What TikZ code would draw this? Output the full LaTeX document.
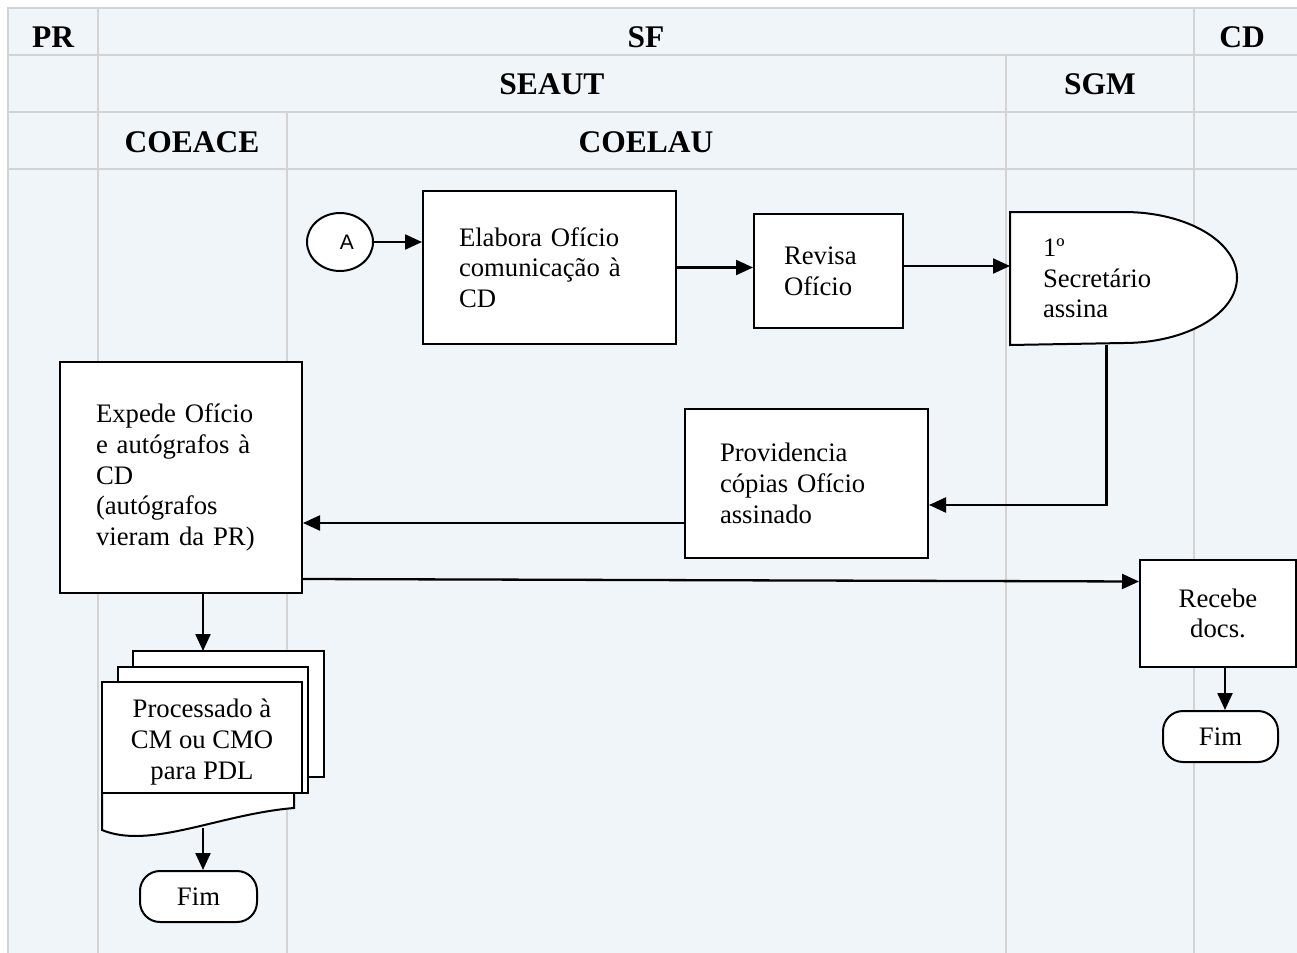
\documentclass[tikz,border=0pt]{standalone}
\usepackage{fontspec}
\setmainfont{Liberation Serif}
\newfontfamily\sansA{Liberation Sans}
\usetikzlibrary{shapes.geometric,arrows.meta,calc}
\pgfdeclarelayer{grid}
\pgfdeclarelayer{shapes}
\pgfsetlayers{grid,shapes,main}
\definecolor{lanebg}{RGB}{240,245,250}
\definecolor{laneline}{RGB}{211,211,211}
\newcommand\txtsize{\fontsize{13.35}{15.35}\selectfont}
\newcommand\hdsize{\fontsize{15.75}{18}\selectfont\bfseries}

\begin{document}
\begin{tikzpicture}[x=0.5pt,y=-0.5pt,
  lane/.style={draw=laneline,line width=1pt},
  head/.style={font=\hdsize,anchor=base,inner sep=0pt},
  box/.style={draw,fill=white,line width=1pt,inner sep=0pt,font=\txtsize,align=left},
  term/.style={box,rounded corners=10pt,align=center},
  page/.style={draw,fill=white,line width=1pt},
  arr/.style={line width=1.15pt,-{Triangle[length=8.5pt,width=7.5pt]}}]
\useasboundingbox (0,0) rectangle (1297,953);

% swimlane table
\begin{pgfonlayer}{grid}
  \fill[lanebg] (8,8) rectangle (1302,958);
  \draw[lane] (1302,8) -- (8,8) -- (8,958);
  \draw[lane] (8,55) -- (1302,55);
  \draw[lane] (8,112) -- (1302,112);
  \draw[lane] (8,169) -- (1302,169);
  \draw[lane] (98,8) -- (98,958);
  \draw[lane] (1194,8) -- (1194,958);
  \draw[lane] (1006,55) -- (1006,958);
  \draw[lane] (287,112) -- (287,958);
\end{pgfonlayer}

% lane headings
\node[head] (hPR) at (53,47) {PR};
\node[head] (hSF) at (646,47) {SF};
\node[head] (hCD) at (1242,47) {CD};
\node[head] (hSEAUT) at (552,94) {SEAUT};
\node[head] (hSGM) at (1100,94) {SGM};
\node[head] (hCOEACE) at (192,152) {COEACE};
\node[head] (hCOELAU) at (646,152) {COELAU};

% process steps
\node[draw,fill=white,ellipse,line width=1pt,minimum width=33pt,minimum height=29pt,
      inner sep=0pt,font=\sansA\fontsize{10.5}{12}\selectfont] (A) at (340,242) {\hspace{7pt}A};
\node[box,minimum width=126.5pt,minimum height=76.5pt,text width=90.5pt] (elab) at (549.5,267.5)
  {Elabora Ofício\\comunicação à\\CD};
\node[box,minimum width=74.5pt,minimum height=57pt,text width=44.5pt] (rev) at (828.5,271)
  {Revisa\\Ofício};
\node[box,draw=none,fill=none,minimum width=113pt,minimum height=65.5pt,text width=81pt] (sec) at (1124,278.5)
  {1º\\Secretário\\assina};
\node[box,minimum width=121.5pt,minimum height=74.5pt,text width=86.5pt] (prov) at (806.5,483.5)
  {Providencia\\cópias Ofício\\assinado};
\node[box,minimum width=121pt,minimum height=115.5pt,text width=85pt] (exp) at (181,477.5)
  {Expede Ofício\\e autógrafos à\\CD\\(autógrafos\\vieram da PR)};
\node[box,align=center,minimum width=78pt,minimum height=53.5pt] (rec) at (1218,613.5)
  {Recebe\\docs.};
\node[term,minimum width=57.5pt,minimum height=25.5pt] (fimB) at (1220.5,736.5) {Fim};
\node[term,minimum width=58.5pt,minimum height=25.5pt] (fimA) at (198.5,896.5) {Fim};
\node[inner sep=0pt,font=\txtsize,align=center] (docs) at (202,742)
  {Processado à\\CM ou CMO\\para PDL};

% shapes drawn behind their texts
\begin{pgfonlayer}{shapes}
  \draw[page] (sec.north west) -- (sec.north)
    arc[start angle=90,end angle=-90,x radius=56.5pt,y radius=32.75pt]
    -- (sec.south west) -- cycle;
  \draw[page] (133,651) rectangle (324,777);
  \draw[page] (118,667) rectangle (308,793);
  \draw[page] (102,682) rectangle (302,793);
  \fill[white] (102,793) -- (102,830) .. controls (150,850) and (220,814) .. (294,808) -- (294,793) -- cycle;
  \draw[line width=1pt] (102,793) -- (102,830) .. controls (150,850) and (220,814) .. (294,808) -- (294,793);
  \draw[line width=1pt] (102,793) -- (308,793);
\end{pgfonlayer}
\coordinate (docTop) at (203,651);
\coordinate (docBot) at (203,828);

% connectors
\draw[arr] (A.east) -- (A.east -| elab.west);
\draw[arr] (elab.east) -- (elab.east -| rev.west);
\coordinate (r1) at ($(rev.east)+(0,-5)$);
\draw[arr] (r1) -- (r1 -| sec.west);
\coordinate (s1) at ($(sec.south west)+(96.5,0)$);
\draw[arr] (s1) |- ($(prov.east)+(0,21.5)$);
\coordinate (p1) at ($(prov.west)+(0,39.5)$);
\draw[arr] (p1) -- (p1 -| exp.east);
\draw[arr] ($(exp.east)+(0,101.5)$) -- ($(rec.west)+(0,-32)$);
\coordinate (q1) at ($(rec.south)+(7,0)$);
\draw[arr] (q1) -- (q1 |- fimB.north);
\draw[arr] (exp.south -| docTop) -- (docTop);
\draw[arr] (docBot) -- (docBot |- fimA.north);
\end{tikzpicture}
\end{document}
